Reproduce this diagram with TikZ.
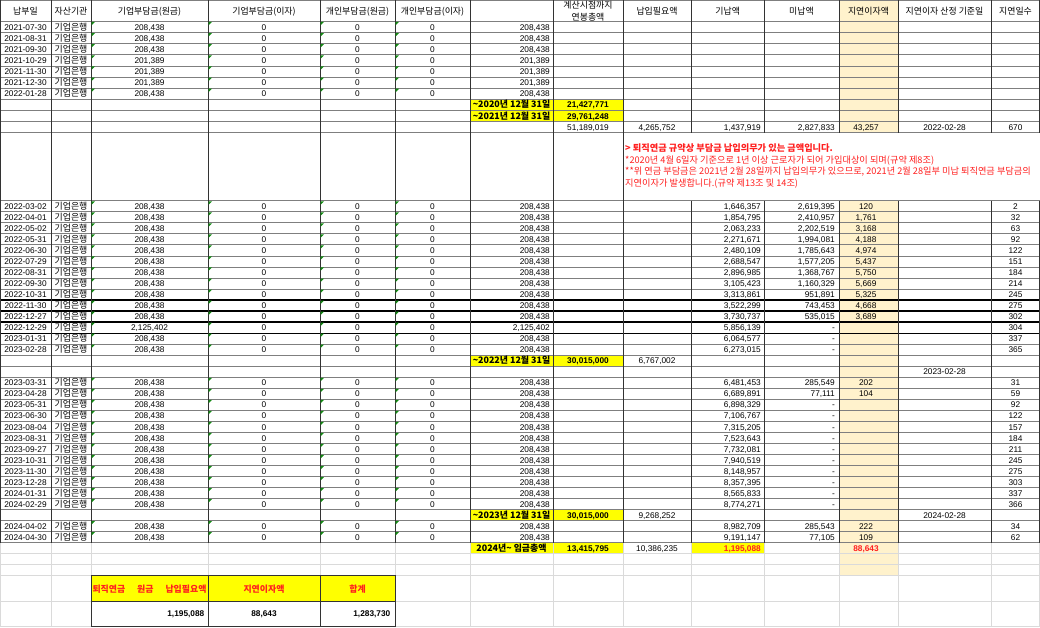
\documentclass[tikz,border=0pt]{standalone}
\usepackage{fontspec}
\setmainfont{Liberation Sans}
\newfontfamily\kr{Noto Sans CJK KR}
\usepackage{tikz}
\definecolor{lateint}{HTML}{FFF2CC}
\definecolor{marker}{HTML}{FFFF00}
\definecolor{warn}{HTML}{FF1F1F}
\definecolor{rule}{HTML}{7F7F7F}
\definecolor{faint}{HTML}{DADADA}
\definecolor{flag}{HTML}{138A13}
\tikzset{
    num/.style={anchor=base, inner sep=0pt, font=\fontsize{8.3}{9}\selectfont},
    numb/.style={num, font=\bfseries\fontsize{8.3}{9}\selectfont},
    kor/.style={anchor=base, inner sep=0pt, font=\kr\fontsize{8.9}{9}\selectfont},
    korb/.style={kor, font=\kr\bfseries\fontsize{8.9}{9}\selectfont},
    notetext/.style={kor, anchor=base west, text=warn, font=\kr\fontsize{9.2}{9}\selectfont},
    hline/.style={rule, line width=0.7pt},
    vline/.style={black!80, line width=0.7pt},
    heavy rule/.style={black, line width=1.1pt},
}
\def\dashcell{-\hspace{2.5pt}}
\def\Pay at (#1) #2 #3 #4 #5 #6 #7;{
    \node[num] (#2-d) at (25.5, #1 + 8.7) {#2};
    \node[kor] (#2-b) at (71, #1 + 8.7) {기업은행};
    \node[num] (#2-a) at (149.5, #1 + 8.7) {#3};
    \node[num] (#2-ai) at (264, #1 + 8.7) {0};
    \node[num] (#2-p) at (357.5, #1 + 8.7) {0};
    \node[num] (#2-pi) at (432.5, #1 + 8.7) {0};
    \node[num, anchor=base east] (#2-s) at (550, #1 + 8.7) {#3};
    \node[num, anchor=base east] (#2-in) at (761, #1 + 8.7) {#4};
    \node[num, anchor=base east] (#2-out) at (835, #1 + 8.7) {#5};
    \node[num] (#2-li) at (866, #1 + 8.7) {#6};
    \node[num] (#2-ld) at (1015.5, #1 + 8.7) {#7};
    \foreach \gx in {91, 208, 320, 395}
        \fill[flag] (\gx + 0.6, #1 + 0.6) -- ++(3.4, 0) -- ++(-3.4, 3.4) -- cycle;
}
\begin{document}
\begin{tikzpicture}[x=1pt, y=-1pt]
    \useasboundingbox (0, 0) rectangle (1040, 627);
    % fills
    \fill[lateint] (839, 0) rectangle (898, 132.7);
    \fill[lateint] (839, 200.7) rectangle (898, 575.7);
    \foreach \ry in {99.28, 110.42, 355.12, 509.54, 542.63}
        \fill[marker] (470.5, \ry + 0.5) rectangle (622.5, \ry + 10.6);
    \fill[marker] (691.5, 543.13) rectangle (764, 553.2);
    \fill[marker] (91, 575.7) rectangle (395, 601.7);

    % light grid under the table
    \foreach \gx in {0.5, 51, 91, 208, 320, 395, 470, 553, 623, 691.5, 764, 839, 898, 991, 1039.5}
        \draw[faint, line width=0.7pt] (\gx, 542.63) -- (\gx, 627);
    \foreach \ry in {553.66, 564.69, 575.7, 601.7, 626}
        \draw[faint, line width=0.7pt] (0, \ry) -- (1040, \ry);

    % table rules
    \draw[hline] (0, 0.5) -- (1040, 0.5);
    \foreach \k in {0, ..., 10}
        \draw[hline] (0, 21.3 + \k*11.14) -- (1040, 21.3 + \k*11.14);
    \foreach \k in {0, ..., 31}
        \draw[hline] (0, 200.7 + \k*11.03) -- (1040, 200.7 + \k*11.03);
    \foreach \k in {9, ..., 12}
        \draw[heavy rule] (0, 200.7 + \k*11.03) -- (1040, 200.7 + \k*11.03);
    \foreach \gx in {0.5, 51, 91, 208, 320, 395, 470, 553, 623}
        \draw[vline] (\gx, 0) -- (\gx, 542.63);
    \foreach \gx in {691.5, 764, 839, 898, 991, 1039.5}
        \draw[vline] (\gx, 0) -- (\gx, 132.7) (\gx, 200.7) -- (\gx, 542.63);

    % header
    \node[kor] (h-date) at (25.5, 14.3) {납부일};
    \node[kor] (h-bank) at (71, 14.3) {자산기관};
    \node[kor] (h-corp) at (149.5, 14.3) {기업부담금(원금)};
    \node[kor] (h-corpi) at (264, 14.3) {기업부담금(이자)};
    \node[kor] (h-own) at (357.5, 14.3) {개인부담금(원금)};
    \node[kor] (h-owni) at (432.5, 14.3) {개인부담금(이자)};
    \node[kor] (h-wage1) at (588, 8.4) {계산시점까지};
    \node[kor] (h-wage2) at (588, 20) {연봉총액};
    \node[kor] (h-need) at (657, 14.3) {납입필요액};
    \node[kor] (h-paid) at (727.7, 14.3) {기납액};
    \node[kor] (h-due) at (801.5, 14.3) {미납액};
    \node[kor] (h-late) at (868.5, 14.3) {지연이자액};
    \node[kor] (h-base) at (944.5, 14.3) {지연이자 산정 기준일};
    \node[kor] (h-days) at (1015.5, 14.3) {지연일수};

    \Pay at (21.3) {2021-07-30} {208,438} {} {} {} {};
    \Pay at (32.44) {2021-08-31} {208,438} {} {} {} {};
    \Pay at (43.58) {2021-09-30} {208,438} {} {} {} {};
    \Pay at (54.72) {2021-10-29} {201,389} {} {} {} {};
    \Pay at (65.86) {2021-11-30} {201,389} {} {} {} {};
    \Pay at (77.0) {2021-12-30} {201,389} {} {} {} {};
    \Pay at (88.14) {2022-01-28} {208,438} {} {} {} {};

    \node[korb] (y20) at (511.5, 107.98) {\textasciitilde2020년 12월 31일};
    \node[numb] (y20-v) at (588, 107.98) {21,427,771};
    \node[korb] (y21) at (511.5, 119.12) {\textasciitilde2021년 12월 31일};
    \node[numb] (y21-v) at (588, 119.12) {29,761,248};
    \node[num] (s22-wage) at (588, 130.26) {51,189,019};
    \node[num] (s22-need) at (657, 130.26) {4,265,752};
    \node[num, anchor=base east] (s22-paid) at (761, 130.26) {1,437,919};
    \node[num, anchor=base east] (s22-due) at (835, 130.26) {2,827,833};
    \node[num] (s22-late) at (866, 130.26) {43,257};
    \node[num] (s22-base) at (944.5, 130.26) {2022-02-28};
    \node[num] (s22-days) at (1015.5, 130.26) {670};

    \node[notetext, font=\kr\bfseries\fontsize{9.2}{9}\selectfont] (note1) at (625, 151.5) {> 퇴직연금 규약상 부담금 납입의무가 있는 금액입니다.};
    \node[notetext] (note2) at (625, 163.2) {*2020년 4월 6일자 기준으로 1년 이상 근로자가 되어 가입대상이 되며(규약 제8조)};
    \node[notetext] (note3) at (625, 174.9) {**위 연금 부담금은 2021년 2월 28일까지 납입의무가 있으므로, 2021년 2월 28일부 미납 퇴직연금 부담금의};
    \node[notetext] (note4) at (625, 186.6) {지연이자가 발생합니다.(규약 제13조 및 14조)};

    \Pay at (200.7) {2022-03-02} {208,438} {1,646,357} {2,619,395} {120} {2};
    \Pay at (211.73) {2022-04-01} {208,438} {1,854,795} {2,410,957} {1,761} {32};
    \Pay at (222.76) {2022-05-02} {208,438} {2,063,233} {2,202,519} {3,168} {63};
    \Pay at (233.79) {2022-05-31} {208,438} {2,271,671} {1,994,081} {4,188} {92};
    \Pay at (244.82) {2022-06-30} {208,438} {2,480,109} {1,785,643} {4,974} {122};
    \Pay at (255.85) {2022-07-29} {208,438} {2,688,547} {1,577,205} {5,437} {151};
    \Pay at (266.88) {2022-08-31} {208,438} {2,896,985} {1,368,767} {5,750} {184};
    \Pay at (277.91) {2022-09-30} {208,438} {3,105,423} {1,160,329} {5,669} {214};
    \Pay at (288.94) {2022-10-31} {208,438} {3,313,861} {951,891} {5,325} {245};
    \Pay at (299.97) {2022-11-30} {208,438} {3,522,299} {743,453} {4,668} {275};
    \Pay at (311.0) {2022-12-27} {208,438} {3,730,737} {535,015} {3,689} {302};
    \Pay at (322.03) {2022-12-29} {2,125,402} {5,856,139} {\dashcell} {} {304};
    \Pay at (333.06) {2023-01-31} {208,438} {6,064,577} {\dashcell} {} {337};
    \Pay at (344.09) {2023-02-28} {208,438} {6,273,015} {\dashcell} {} {365};

    \node[korb] (y22) at (511.5, 363.82) {\textasciitilde2022년 12월 31일};
    \node[numb] (y22-v) at (588, 363.82) {30,015,000};
    \node[num] (y22-need) at (657, 363.82) {6,767,002};
    \node[num] (base23) at (944.5, 374.85) {2023-02-28};

    \Pay at (377.18) {2023-03-31} {208,438} {6,481,453} {285,549} {202} {31};
    \Pay at (388.21) {2023-04-28} {208,438} {6,689,891} {77,111} {104} {59};
    \Pay at (399.24) {2023-05-31} {208,438} {6,898,329} {\dashcell} {} {92};
    \Pay at (410.27) {2023-06-30} {208,438} {7,106,767} {\dashcell} {} {122};
    \Pay at (421.3) {2023-08-04} {208,438} {7,315,205} {\dashcell} {} {157};
    \Pay at (432.33) {2023-08-31} {208,438} {7,523,643} {\dashcell} {} {184};
    \Pay at (443.36) {2023-09-27} {208,438} {7,732,081} {\dashcell} {} {211};
    \Pay at (454.39) {2023-10-31} {208,438} {7,940,519} {\dashcell} {} {245};
    \Pay at (465.42) {2023-11-30} {208,438} {8,148,957} {\dashcell} {} {275};
    \Pay at (476.45) {2023-12-28} {208,438} {8,357,395} {\dashcell} {} {303};
    \Pay at (487.48) {2024-01-31} {208,438} {8,565,833} {\dashcell} {} {337};
    \Pay at (498.51) {2024-02-29} {208,438} {8,774,271} {\dashcell} {} {366};

    \node[korb] (y23) at (511.5, 518.24) {\textasciitilde2023년 12월 31일};
    \node[numb] (y23-v) at (588, 518.24) {30,015,000};
    \node[num] (y23-need) at (657, 518.24) {9,268,252};
    \node[num] (base24) at (944.5, 518.24) {2024-02-28};

    \Pay at (520.57) {2024-04-02} {208,438} {8,982,709} {285,543} {222} {34};
    \Pay at (531.6) {2024-04-30} {208,438} {9,191,147} {77,105} {109} {62};

    \node[korb] (y24) at (511.5, 551.33) {2024년\textasciitilde{} 임금총액};
    \node[numb] (y24-v) at (588, 551.33) {13,415,795};
    \node[num] (y24-need) at (657, 551.33) {10,386,235};
    \node[numb, anchor=base east, text=warn] (sum-need) at (761, 551.33) {1,195,088};
    \node[numb, text=warn] (sum-late) at (866, 551.33) {88,643};

    % summary box
    \draw[vline, line width=0.9pt] (91, 575.7) rectangle (395, 626);
    \draw[vline] (91, 601.7) -- (395, 601.7);
    \draw[vline] (208, 575.7) -- (208, 626) (320, 575.7) -- (320, 626);
    \node[korb, text=warn] (t-need) at (149.5, 592) {\makebox[114pt][s]{퇴직연금\hfill 원금\hfill 납입필요액}};
    \node[korb, text=warn] (t-late) at (264, 592) {지연이자액};
    \node[korb, text=warn] (t-sum) at (357.5, 592) {합계};
    \node[numb, anchor=base east] (v-need) at (204.5, 616.5) {1,195,088};
    \node[numb] (v-late) at (264, 616.5) {88,643};
    \node[numb, anchor=base east] (v-sum) at (390.5, 616.5) {1,283,730};
\end{tikzpicture}
\end{document}
